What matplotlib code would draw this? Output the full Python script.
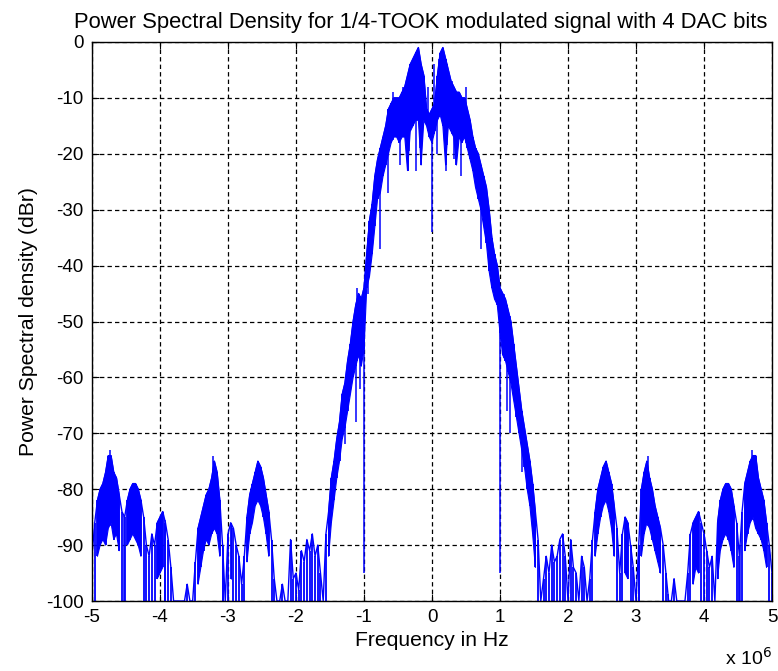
import numpy as np
import matplotlib
matplotlib.use("Agg")
import matplotlib.pyplot as plt

title = "Power Spectral Density for 1/4-TOOK modulated signal with 4 DAC bits"
xlabel = "Frequency in Hz"
ylabel = "Power Spectral density (dBr)"
xticks_mhz = [-5, -4, -3, -2, -1, 0, 1, 2, 3, 4, 5]
yticks_db = [0, -10, -20, -30, -40, -50, -60, -70, -80, -90, -100]

# Per-bin max / min of the PSD (dBr), bins every 0.04 MHz from -5 MHz to +5 MHz
# (a min of -100 means the trace drops to the bottom of the plot in that bin)
left_hi = [
    -92, -86, -82, -80, -79, -77, -74, -74, -77, -78,
    -81, -84, -85, -82, -80, -79, -79, -80, -82, -85,
    -90, -92, -88, -90, -86, -85, -84, -86, -89, -94,
    -100, -100, -100, -100, -100, -97, -100, -100, -93, -87,
    -85, -83, -81, -80, -78, -75, -77, -82, -90, -100,
    -88, -86, -87, -90, -92, -97, -92, -85, -81, -79,
    -77, -75, -76, -78, -81, -84, -89, -96, -100, -100,
    -97, -100, -100, -89, -96, -95, -98, -91, -93, -89,
    -91, -88, -92, -90, -95, -100,
]
left_lo = [
    -100, -100, -92, -90, -89, -90, -87, -86, -89, -88,
    -91, -100, -100, -90, -89, -88, -89, -90, -92, -100,
    -100, -100, -100, -100, -96, -95, -94, -100, -100, -100,
    -100, -100, -100, -100, -100, -100, -100, -100, -100, -97,
    -94, -91, -89, -90, -88, -87, -88, -92, -100, -100,
    -100, -96, -100, -100, -100, -100, -100, -93, -88, -86,
    -83, -82, -83, -85, -88, -92, -100, -100, -100, -100,
    -100, -100, -100, -100, -100, -100, -100, -100, -100, -100,
    -100, -100, -100, -100, -100, -100,
]
main_hi = [
    -88, -84, -78, -75, -71, -68, -63, -61, -57, -54,
    -50, -47, -45, -46, -44, -38, -32, -29, -24, -21,
    -19, -17, -15, -12, -11, -10, -10, -10, -9, -8,
    -6, -4, -3, -2, -1, -4, -6, -12, -13, -12,
    -11, -6, -2, -1, -3, -5, -7, -8, -9, -9,
    -10, -10, -12, -14, -17, -19, -20, -22, -24, -26,
    -30, -35, -38, -40, -44, -45, -46, -48, -50, -54,
    -58, -62, -66, -69, -72, -75, -79, -84, -89,
]
main_lo = [
    -100, -92, -86, -82, -78, -75, -71, -69, -66, -63,
    -60, -58, -56, -58, -55, -44, -42, -38, -33, -28,
    -27, -24, -22, -20, -18, -17, -17, -18, -17, -17,
    -23, -16, -15, -14, -14, -22, -14, -15, -17, -18,
    -16, -14, -13, -15, -22, -15, -16, -17, -22, -17,
    -18, -17, -19, -21, -23, -26, -28, -30, -33, -36,
    -41, -44, -46, -47, -52, -56, -57, -59, -61, -64,
    -67, -70, -73, -76, -80, -83, -88, -94, -100,
]
right_hi = [
    -100, -96, -92, -95, -90, -93, -92, -89, -88, -92,
    -100, -89, -94, -95, -100, -92, -94, -100, -96, -89,
    -84, -80, -78, -76, -75, -77, -79, -83, -87, -95,
    -88, -85, -86, -90, -94, -100, -90, -80, -77, -75,
    -78, -80, -83, -85, -87, -90, -95, -100, -100, -96,
    -100, -100, -100, -100, -95, -88, -86, -85, -84, -86,
    -88, -91, -94, -92, -100, -86, -82, -80, -79, -79,
    -80, -83, -86, -92, -84, -79, -77, -75, -74, -74,
    -78, -80, -82, -86, -90, -95,
]
right_lo = [
    -100, -100, -100, -100, -100, -100, -100, -100, -100, -100,
    -100, -100, -100, -100, -100, -100, -100, -100, -100, -100,
    -92, -88, -85, -83, -82, -84, -87, -92, -100, -100,
    -100, -95, -96, -100, -100, -100, -100, -92, -88, -86,
    -87, -89, -91, -93, -95, -100, -100, -100, -100, -100,
    -100, -100, -100, -100, -100, -100, -97, -94, -95, -100,
    -100, -100, -100, -100, -100, -96, -91, -89, -88, -89,
    -91, -94, -100, -100, -100, -91, -88, -86, -85, -87,
    -88, -89, -91, -94, -100, -100,
]
# narrow notches / spurs of the trace beyond the band
notch_freq_mhz = [-1.0, 0.0, 1.0, -0.94, -0.76, -0.64, -0.47, -0.36, -0.23, -0.17,
                  0.08, 0.20, 0.33, 0.43, 0.72, 0.90, -1.06, -1.12, 1.10, 1.14,
                  -1.28, 1.32, -4.53, -3.93, -3.07, 3.04, 3.47, 4.53]
notch_floor_db = [-95, -34, -95, -45, -37, -27, -22, -23, -23, -19,
                  -20, -23, -21, -24, -37, -44, -62, -68, -66, -70,
                  -72, -77, -100, -100, -100, -100, -100, -100]
peak_freq_mhz = [-0.42, -0.34, -0.26, -0.14, -0.06, 0.03, 0.10, 0.22, 0.30,
                 -0.58, 0.50, -1.10, 1.06, -4.74, -3.22, 3.18, 4.70]
peak_top_db = [-8, -6, -3, -5, -8, -4, -3, -4, -7,
               -9, -8, -44, -45, -73, -74, -74, -73]

psd_hi = np.array(left_hi + main_hi + right_hi, dtype=float)
psd_lo = np.array(left_lo + main_lo + right_lo, dtype=float)
freq_hz = np.linspace(-5e6, 5e6, len(psd_hi))

blue = '#0000ff'
plt.rcParams['font.family'] = ['Liberation Sans', 'DejaVu Sans']
fig = plt.figure(figsize=(7.78, 6.71), dpi=100)
ax = fig.add_axes([92/778, 1-601/671, (772-92)/778, (601-42)/671])

ax.fill_between(freq_hz, psd_lo, psd_hi, where=psd_lo > -100,
                color=blue, linewidth=0.8, edgecolor=blue, zorder=3)
ax.vlines(freq_hz, psd_lo, psd_hi, color=blue, linewidth=1.3, zorder=3)
ax.plot(freq_hz, psd_hi, color=blue, linewidth=1.0, zorder=3)
nf = np.array(notch_freq_mhz) * 1e6
ax.vlines(nf, notch_floor_db, np.interp(nf, freq_hz, psd_hi),
          color=blue, linewidth=1.1, zorder=3)
pf = np.array(peak_freq_mhz) * 1e6
ax.vlines(pf, np.interp(pf, freq_hz, psd_lo), peak_top_db,
          color=blue, linewidth=1.1, zorder=3)

ax.set_xlim(-5e6, 5e6)
ax.set_ylim(-100, 0)
ax.set_xticks([v*1e6 for v in xticks_mhz])
ax.set_xticklabels([str(v) for v in xticks_mhz])
ax.set_yticks(yticks_db)
ax.set_yticklabels([str(v) for v in yticks_db])
ax.grid(True, color='black', linestyle=(0, (3.5, 2.5)), linewidth=0.9, zorder=1)
ax.set_axisbelow(True)
ax.tick_params(direction='in', length=5, width=0.8, labelsize=13.5, pad=6,
               top=True, right=True, colors='black')
for s in ax.spines.values():
    s.set_linewidth(1.0)
    s.set_zorder(4)
ax.set_title(title, fontsize=15.8, pad=10, x=(421-92)/680)
ax.set_xlabel(xlabel, fontsize=15.2, labelpad=3)
ax.set_ylabel(ylabel, fontsize=15.2, labelpad=6)
fig.text(725/778, 1-658/671, r"x 10$^{6}$", fontsize=14, va='center')

fig.savefig("out.png", dpi=100)
